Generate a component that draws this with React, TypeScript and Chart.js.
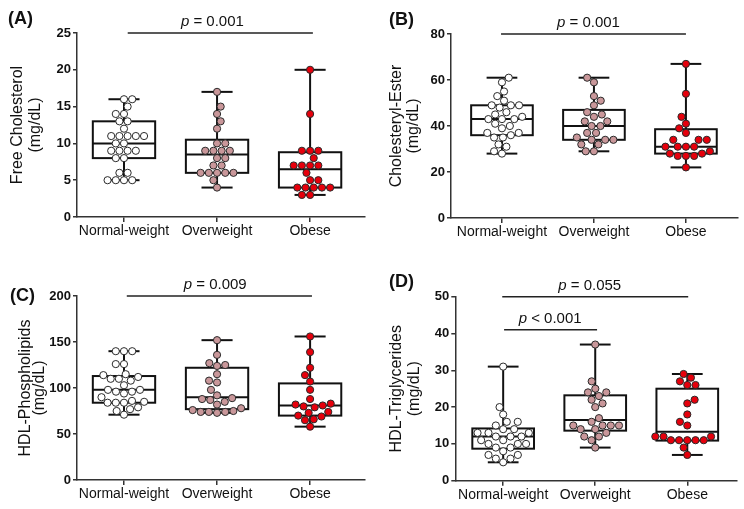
import React, { useEffect, useRef } from 'react';
import { Chart, registerables } from 'chart.js';

Chart.register(...registerables);

const FONT = "'Liberation Sans', Arial, Helvetica, sans-serif";

const categories = ['Normal-weight', 'Overweight', 'Obese'];
const groupFill = ['#ffffff', '#c9979a', '#e6000c'];

// (A) Free Cholesterol (mg/dL)
const fcNormal = [16, 16, 15, 14, 14, 13, 13, 12, 11, 11, 11, 11, 11, 10, 10, 9, 9, 9, 9, 8, 8, 6, 6, 5, 5, 5, 5];
const fcOver = [17, 15, 14, 13, 12, 10, 10, 9, 9, 9, 9, 8, 8, 7, 7, 6, 6, 6, 6, 6, 5, 4];
const fcObese = [20, 14, 9, 9, 9, 8, 7, 7, 7, 7, 6, 5, 5, 4, 4, 4, 4, 4, 3, 3];
// box stats: [min, q1, median, q3, max]
const fcBox = [[5, 8, 10, 13, 16], [4, 6, 8.5, 10.5, 17], [3, 4, 6.5, 8.8, 20]];
const fcAxis = [0, 25, 5];
const fcP = [{ from: 1.04, to: 3.03, at: 25, text: '= 0.001', textX: 1.95 }];

// (B) Cholesteryl-Ester (mg/dL)
const ceNormal = [61, 59, 55, 53, 51, 49, 49, 49, 48, 46, 45, 44, 43, 43, 43, 41, 40, 39, 37, 37, 36, 35, 35, 32, 31, 29, 28];
const ceOver = [61, 59, 53, 51, 49, 46, 45, 44, 42, 42, 40, 40, 37, 37, 35, 34, 34, 34, 32, 32, 29, 29];
const ceObese = [67, 54, 44, 41, 39, 37, 34, 34, 34, 31, 31, 31, 31, 29, 28, 28, 27, 27, 27, 22];
const ceBox = [[28, 36, 43, 49, 61], [29, 34, 40, 47, 61], [22, 28, 31, 38.6, 67]];
const ceAxis = [0, 80, 20];
const ceP = [{ from: 0.99, to: 3.0, at: 80, text: '= 0.001', textX: 1.94 }];

// (C) HDL-Phospholipids (mg/dL)
const plNormal = [140, 140, 140, 126, 126, 115, 114, 112, 110, 110, 108, 103, 98, 98, 96, 96, 94, 90, 86, 85, 84, 84, 84, 79, 77, 75, 71];
const plOver = [152, 136, 127, 125, 124, 115, 108, 106, 98, 92, 89, 88, 87, 85, 82, 78, 76, 75, 74, 74, 74, 73];
const plObese = [156, 139, 122, 114, 107, 98, 88, 83, 82, 81, 80, 79, 74, 73, 70, 69, 66, 65, 58];
const plBox = [[71, 84, 98, 113, 140], [73, 77, 90, 122, 152], [58, 70, 81, 105, 156]];
const plAxis = [0, 200, 50];
const plP = [{ from: 1.03, to: 3.02, at: 200, text: '= 0.009', textX: 1.98 }];

// (D) HDL-Triglycerides (mg/dL)
const tgNormal = [31, 20, 18, 16, 16, 15, 14, 14, 13, 13, 13, 12, 12, 12, 11, 11, 10, 10, 10, 9, 9, 8, 7, 7, 6, 6, 5];
const tgOver = [37, 27, 25, 24, 24, 23, 22, 21, 20, 17, 16, 15, 15, 15, 15, 14, 14, 13, 12, 12, 11, 9];
const tgObese = [29, 28, 27, 26, 26, 22, 21, 18, 16, 15, 12, 12, 12, 11, 11, 11, 11, 11, 9, 7];
const tgBox = [[5, 8.7, 12, 14.2, 31], [9, 13.6, 16.5, 23.2, 37], [7, 10.9, 13.3, 25, 29]];
const tgAxis = [0, 50, 10];
const tgP = [
  { from: 0.99, to: 3.01, at: 50, text: '= 0.055', textX: 1.94 },
  { from: 1.01, to: 2.02, at: 41, text: '< 0.001', textX: 1.51 },
];

const panels = [
  {
    tag: '(A)', title: ['Free Cholesterol', '(mg/dL)'], groups: [fcNormal, fcOver, fcObese], boxes: fcBox, axis: fcAxis, pvals: fcP,
    pos: { left: 0, top: 0, w: 372, h: 250 }, plot: { left: 77, right: 365, top: 33, bottom: 217 }, xr: [0.495, 3.59],
    titleLH: 18.3, titlePad: 8.4, tagAt: [8, 19],
  },
  {
    tag: '(B)', title: ['Cholesteryl-Ester', '(mg/dL)'], groups: [ceNormal, ceOver, ceObese], boxes: ceBox, axis: ceAxis, pvals: ceP,
    pos: { left: 372, top: 0, w: 372, h: 250 }, plot: { left: 79, right: 366, top: 34, bottom: 218 }, xr: [0.446, 3.566],
    titleLH: 17.2, titlePad: 15.9, tagAt: [17, 20],
  },
  {
    tag: '(C)', title: ['HDL-Phospholipids', '(mg/dL)'], groups: [plNormal, plOver, plObese], boxes: plBox, axis: plAxis, pvals: plP,
    pos: { left: 0, top: 250, w: 372, h: 259 }, plot: { left: 77, right: 365, top: 46, bottom: 230 }, xr: [0.495, 3.59],
    titleLH: 14, titlePad: 19, tagAt: [10, 46.5],
  },
  {
    tag: '(D)', title: ['HDL-Triglycerides', '(mg/dL)'], groups: [tgNormal, tgOver, tgObese], boxes: tgBox, axis: tgAxis, pvals: tgP,
    pos: { left: 372, top: 250, w: 372, h: 259 }, plot: { left: 83.3, right: 365, top: 46.7, bottom: 230.7 }, xr: [0.48, 3.54],
    titleLH: 18.5, titlePad: 15.2, tagAt: [17, 32.3],
  },
];

// simple beeswarm in pixel space: returns horizontal pixel offsets
function swarm(ys: number[], d: number): number[] {
  const idx = ys.map((_, i) => i).sort((a, b) => ys[b] - ys[a]);
  const placed: { x: number; y: number }[] = [];
  const out = new Array(ys.length).fill(0);
  let flip = 1;
  for (const i of idx) {
    const y = ys[i];
    const cands = [0];
    for (const p of placed) {
      const dy = Math.abs(p.y - y);
      if (dy < d) {
        const dx = Math.sqrt(d * d - dy * dy) + 0.01;
        cands.push(p.x + dx, p.x - dx);
      }
    }
    cands.sort((a, b) => {
      const da = Math.abs(a) - Math.abs(b);
      if (Math.abs(da) > 0.05) return da;
      return flip * (b - a);
    });
    for (const c of cands) {
      if (placed.every((p) => (p.x - c) ** 2 + (p.y - y) ** 2 >= d * d - 0.02)) {
        out[i] = c;
        placed.push({ x: c, y });
        break;
      }
    }
    flip = -flip;
  }
  return out;
}

const boxPlugin = {
  id: 'boxAndAnno',
  beforeDatasetsDraw(chart: any, _a: any, opts: any) {
    const { ctx } = chart;
    const xs = chart.scales.x;
    const ys = chart.scales.y;
    const unit = xs.getPixelForValue(2) - xs.getPixelForValue(1);
    ctx.save();
    ctx.lineWidth = 2;
    ctx.strokeStyle = '#111';
    ctx.lineCap = 'butt';
    const line = (x1: number, y1: number, x2: number, y2: number) => {
      ctx.beginPath();
      ctx.moveTo(x1, y1);
      ctx.lineTo(x2, y2);
      ctx.stroke();
    };
    (opts.boxes || []).forEach((b: number[], gi: number) => {
      const [mn, q1, md, q3, mx] = b;
      const cx = xs.getPixelForValue(gi + 1);
      const hw = unit * 0.335;
      const cw = unit * 0.167;
      line(cx, ys.getPixelForValue(mn), cx, ys.getPixelForValue(q1));
      line(cx, ys.getPixelForValue(q3), cx, ys.getPixelForValue(mx));
      line(cx - cw, ys.getPixelForValue(mn), cx + cw, ys.getPixelForValue(mn));
      line(cx - cw, ys.getPixelForValue(mx), cx + cw, ys.getPixelForValue(mx));
      const top = ys.getPixelForValue(q3);
      const bot = ys.getPixelForValue(q1);
      ctx.fillStyle = '#fff';
      ctx.fillRect(cx - hw, top, hw * 2, bot - top);
      ctx.strokeRect(cx - hw, top, hw * 2, bot - top);
      line(cx - hw, ys.getPixelForValue(md), cx + hw, ys.getPixelForValue(md));
    });
    ctx.restore();
  },
  afterDraw(chart: any, _a: any, opts: any) {
    const { ctx } = chart;
    const xs = chart.scales.x;
    const ys = chart.scales.y;
    ctx.save();
    (opts.pvals || []).forEach((p: any) => {
      const y = ys.getPixelForValue(p.at);
      ctx.strokeStyle = '#222';
      ctx.lineWidth = 1.5;
      ctx.beginPath();
      ctx.moveTo(xs.getPixelForValue(p.from), y);
      ctx.lineTo(xs.getPixelForValue(p.to), y);
      ctx.stroke();
      ctx.fillStyle = '#111';
      ctx.textBaseline = 'alphabetic';
      ctx.textAlign = 'left';
      ctx.font = `italic 15px ${FONT}`;
      const wp = ctx.measureText('p').width;
      ctx.font = `15px ${FONT}`;
      const wr = ctx.measureText(' ' + p.text).width;
      const cx = xs.getPixelForValue(p.textX);
      const x0 = cx - (wp + wr) / 2;
      ctx.font = `italic 15px ${FONT}`;
      ctx.fillText('p', x0, y - 7);
      ctx.font = `15px ${FONT}`;
      ctx.fillText(' ' + p.text, x0 + wp, y - 7);
    });
    if (opts.tag) {
      ctx.font = `bold 18px ${FONT}`;
      ctx.fillStyle = '#111';
      ctx.textAlign = 'left';
      ctx.textBaseline = 'middle';
      ctx.fillText(opts.tag, opts.tagAt[0], opts.tagAt[1]);
    }
    ctx.restore();
  },
};

function makeConfig(p: any): any {
  const { w, h } = p.pos;
  const pl = p.plot;
  return {
    type: 'scatter',
    data: {
      datasets: p.groups.map((vals: number[], gi: number) => ({
        label: categories[gi],
        data: vals.map((v) => ({ x: gi + 1, y: v })),
        pointRadius: 3.6,
        pointHoverRadius: 3.6,
        pointBackgroundColor: groupFill[gi],
        pointBorderColor: '#2a2a2a',
        pointBorderWidth: 1,
        showLine: false,
      })),
    },
    options: {
      animation: false,
      responsive: false,
      maintainAspectRatio: false,
      devicePixelRatio: 1,
      events: [],
      layout: { padding: { left: 0, top: pl.top, right: w - pl.right, bottom: 0 } },
      plugins: {
        legend: { display: false },
        tooltip: { enabled: false },
        boxAndAnno: { boxes: p.boxes, pvals: p.pvals, tag: p.tag, tagAt: p.tagAt },
      },
      scales: {
        x: {
          type: 'linear',
          min: p.xr[0],
          max: p.xr[1],
          afterBuildTicks: (s: any) => {
            s.ticks = [1, 2, 3].map((v) => ({ value: v }));
          },
          afterFit: (s: any) => {
            s.height = h - pl.bottom;
          },
          ticks: {
            autoSkip: false,
            maxRotation: 0,
            padding: 1,
            color: '#111',
            font: { family: FONT, size: 14 },
            callback: (v: number) => categories[Math.round(v) - 1] ?? '',
          },
          grid: { display: true, drawOnChartArea: false, drawTicks: true, tickLength: 5, color: '#333', lineWidth: 1.5 },
          border: { display: true, color: '#333', width: 1.5 },
        },
        y: {
          type: 'linear',
          min: p.axis[0],
          max: p.axis[1],
          afterFit: (s: any) => {
            s.width = pl.left;
          },
          ticks: {
            stepSize: p.axis[2],
            padding: 2,
            color: '#111',
            font: { family: FONT, size: 13, weight: 'bold' },
          },
          grid: { display: true, drawOnChartArea: false, drawTicks: true, tickLength: 4, color: '#333', lineWidth: 1.5 },
          border: { display: true, color: '#333', width: 1.5 },
          title: {
            display: true,
            text: p.title,
            color: '#111',
            font: { family: FONT, size: 16, lineHeight: p.titleLH / 16 },
            padding: { top: p.titlePad, bottom: 0 },
          },
        },
      },
    },
    plugins: [boxPlugin],
  };
}

export default function App() {
  const refs = useRef<(HTMLCanvasElement | null)[]>([]);

  useEffect(() => {
    const charts = panels.map((p, i) => {
      const canvas = refs.current[i] as HTMLCanvasElement;
      const chart = new Chart(canvas, makeConfig(p));
      const xs: any = chart.scales.x;
      const ys: any = chart.scales.y;
      const unit = xs.getPixelForValue(2) - xs.getPixelForValue(1);
      chart.data.datasets.forEach((ds: any, gi: number) => {
        const vals = p.groups[gi];
        const offs = swarm(vals.map((v: number) => ys.getPixelForValue(v)), 8.2);
        ds.data = vals.map((v: number, k: number) => ({ x: gi + 1 + offs[k] / unit, y: v }));
      });
      chart.update();
      return chart;
    });
    return () => charts.forEach((c) => c.destroy());
  }, []);

  return (
    <div style={{ position: 'absolute', left: 0, top: 0, width: 744, height: 509, background: '#fff' }}>
      {panels.map((p, i) => (
        <canvas
          key={p.tag}
          ref={(el) => {
            refs.current[i] = el;
          }}
          width={p.pos.w}
          height={p.pos.h}
          style={{ position: 'absolute', left: p.pos.left, top: p.pos.top, width: p.pos.w, height: p.pos.h }}
        />
      ))}
    </div>
  );
}
